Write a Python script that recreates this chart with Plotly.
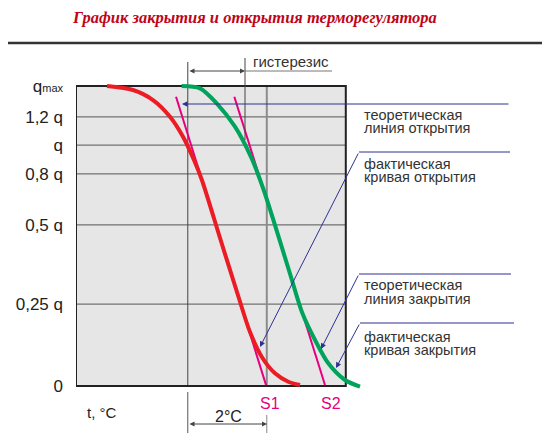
import plotly.graph_objects as go

# ---------------- data ----------------
# x: temperature (°C, arbitrary origin), y: relative flow (qmax = 100)
red_t = [0.955, 1.613, 2.119, 2.550, 2.879, 3.157, 3.357, 3.816, 4.269, 4.575, 4.871, 5.208, 5.545, 5.841]
red_q = [100.0, 98.67, 95.33, 89.77, 83.1, 75.33, 68.67, 49.33, 30.33, 18.0, 9.77, 4.23, 1.43, 0.33]

green_t = [2.846, 3.309, 3.732, 4.195, 4.600, 4.922, 5.585, 5.902, 6.221, 6.557, 6.980, 7.360]
green_q = [100.0, 99.23, 94.23, 86.43, 76.33, 65.33, 37.57, 24.23, 15.33, 7.57, 2.0, -0.23]

s1_t = [2.702, 4.980]
s1_q = [96.43, 0.33]
s2_t = [4.178, 6.474]
s2_q = [96.43, 0.33]

tick_vals = [100, 89.7, 80.3, 70.7, 53.7, 27.3, 0]
tick_text = ["q<span style='font-size:11px'>max</span>", "1,2 q", "q", "0,8 q", "0,5 q", "0,25 q", "0"]

grid_t = [3.0, 5.0]
box_t = [0.17, 7.0]
box_q = [0, 100]

title_text = "График закрытия и открытия терморегулятора"
labels = [
    ("теоретическая", "линия открытия"),
    ("фактическая", "кривая открытия"),
    ("теоретическая", "линия закрытия"),
    ("фактическая", "кривая закрытия"),
]

# ---------------- layout helpers (reference pixel -> axis) ----------------
OFF = 8            # page body margin of the browser
W, H = 550 - OFF, 447 - OFF
PXU = 39.5         # pixels per x unit
X0 = 0.17 - 76 / PXU


def tx(px):
    return X0 + px / PXU


def ty(py):
    return (386 - py) / 3.0


fig = go.Figure()

BLUE = "#2e3192"
MAG = "#e6007e"
FONT = "Liberation Sans, Arial, sans-serif"

shapes = []
# grey panel
shapes.append(dict(type="rect", xref="x", yref="y", x0=box_t[0], x1=box_t[1], y0=box_q[0], y1=box_q[1],
                   fillcolor="#e6e6e6", line=dict(width=0), layer="below"))
# horizontal grid lines
for v in tick_vals[1:-1]:
    shapes.append(dict(type="line", xref="x", yref="y", x0=box_t[0], x1=box_t[1], y0=v, y1=v,
                       line=dict(color="#555555", width=1), layer="below"))
# vertical grid lines
shapes.append(dict(type="line", xref="x", yref="y", x0=grid_t[0], x1=grid_t[0], y0=0, y1=ty(62),
                   line=dict(color="#444444", width=1), layer="below"))
shapes.append(dict(type="line", xref="x", yref="y", x0=grid_t[1], x1=grid_t[1], y0=0, y1=100,
                   line=dict(color="#8c8c8c", width=2), layer="below"))
# panel border
shapes.append(dict(type="rect", xref="x", yref="y", x0=box_t[0], x1=box_t[1], y0=box_q[0], y1=box_q[1],
                   line=dict(color="#222222", width=2), layer="below"))
# hysteresis right marker line
shapes.append(dict(type="line", xref="x", yref="y", x0=tx(245), x1=tx(245), y0=ty(58), y1=ty(140),
                   line=dict(color="#444444", width=1)))
# underline of "гистерезис"
shapes.append(dict(type="line", xref="x", yref="y", x0=tx(245), x1=tx(332), y0=ty(71), y1=ty(71),
                   line=dict(color="#777777", width=1)))
# 2°C dimension verticals
shapes.append(dict(type="line", xref="x", yref="y", x0=grid_t[0], x1=grid_t[0], y0=ty(392), y1=ty(433),
                   line=dict(color="#555555", width=1)))
shapes.append(dict(type="line", xref="x", yref="y", x0=grid_t[1], x1=grid_t[1], y0=ty(415), y1=ty(433),
                   line=dict(color="#888888", width=1)))
# header rule
shapes.append(dict(type="line", xref="paper", yref="y", x0=-1, x1=1, y0=ty(43), y1=ty(43),
                   line=dict(color="#333333", width=2.5)))
# blue leader horizontal parts
for (xa, xb, yy) in [(359, 510, 152), (359, 511, 274), (360, 514, 323)]:
    shapes.append(dict(type="line", xref="x", yref="y", x0=tx(xa), x1=tx(xb), y0=ty(yy), y1=ty(yy),
                       line=dict(color=BLUE, width=1)))

# ---------------- traces ----------------
fig.add_trace(go.Scatter(x=s1_t, y=s1_q, mode="lines", line=dict(color=MAG, width=2), hoverinfo="skip"))
fig.add_trace(go.Scatter(x=s2_t, y=s2_q, mode="lines", line=dict(color=MAG, width=2), hoverinfo="skip"))
fig.add_trace(go.Scatter(x=red_t, y=red_q, mode="lines",
                         line=dict(color="#ec1c24", width=4, shape="spline", smoothing=0.8), hoverinfo="skip"))
fig.add_trace(go.Scatter(x=green_t, y=green_q, mode="lines",
                         line=dict(color="#00a35c", width=4, shape="spline", smoothing=0.8), hoverinfo="skip"))

annotations = []


def arrow(tail, head, color, side="end", width=1):
    annotations.append(dict(x=tx(head[0]), y=ty(head[1]), ax=tx(tail[0]), ay=ty(tail[1]),
                            xref="x", yref="y", axref="x", ayref="y", text="", showarrow=True,
                            arrowhead=2, arrowsize=1.1, arrowwidth=width, arrowcolor=color, arrowside=side,
                            standoff=0, startstandoff=0))


# blue leaders
arrow((510, 104), (182, 104), BLUE)
arrow((359, 152), (260, 347), BLUE)
arrow((359, 274), (321, 349), BLUE)
arrow((360, 323), (336, 368), BLUE)
# hysteresis dimension
annotations.append(dict(x=tx(245), y=ty(71), ax=tx(188), ay=ty(71), xref="x", yref="y", axref="x", ayref="y",
                        text="", showarrow=True, arrowhead=2, startarrowhead=2, arrowsize=1, arrowwidth=1,
                        arrowcolor="#444444", arrowside="end+start", standoff=0, startstandoff=0))
# 2°C dimension
annotations.append(dict(x=tx(267), y=ty(424), ax=tx(188), ay=ty(424), xref="x", yref="y", axref="x", ayref="y",
                        text="", showarrow=True, arrowhead=2, startarrowhead=2, arrowsize=1, arrowwidth=1,
                        arrowcolor="#444444", arrowside="end+start", standoff=0, startstandoff=0))


def label(px, py, text, size=14, color="#333333", xanchor="left", family=FONT):
    annotations.append(dict(x=tx(px), y=ty(py), xref="x", yref="y", text=text, showarrow=False,
                            xanchor=xanchor, yanchor="middle", borderpad=0,
                            font=dict(size=size, color=color, family=family)))


# title (x in paper units, since its anchor lies left of the x range)
annotations.append(dict(x=(71 - 76) / 474.0, y=ty(17), xref="paper", yref="y",
                        text="<b><i>" + title_text + "</i></b>",
                        showarrow=False, xanchor="left", yanchor="middle", borderpad=0,
                        font=dict(size=16.5, color="#c00418", family="Liberation Serif, Times New Roman, serif")))

label(252, 61, "гистерезис", 15)
label_rows = [(115, 128), (164, 177), (285, 299), (337, 350)]
for (l1, l2), (y1, y2) in zip(labels, label_rows):
    label(363, y1, l1, 14.5)
    label(363, y2, l2, 14.5)

label(86, 412, "t, °C", 15, "#222222")
label(270, 403, "S1", 16, MAG, "center")
label(331, 403, "S2", 16, MAG, "center")
label(228, 416, "2°C", 16, "#222222", "center")

fig.update_layout(
    width=W, height=H,
    margin=dict(l=76 - OFF, r=0, t=0, b=0, autoexpand=False),
    paper_bgcolor="white", plot_bgcolor="white",
    showlegend=False,
    shapes=shapes, annotations=annotations,
    xaxis=dict(range=[tx(76), tx(550)], visible=False, fixedrange=True),
    yaxis=dict(range=[ty(447), ty(OFF)], showgrid=False, zeroline=False, showline=False,
               tickmode="array", tickvals=tick_vals, ticktext=tick_text, ticks="",
               ticklabelstandoff=12, tickfont=dict(size=17, color="#222222", family=FONT), fixedrange=True),
)

fig.write_html("out.html")
